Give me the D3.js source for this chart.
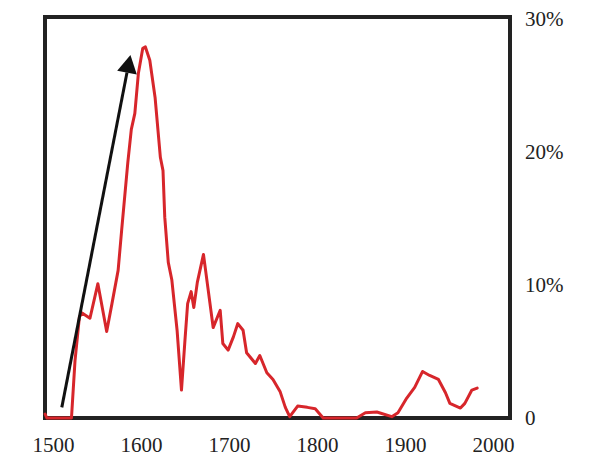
<!DOCTYPE html>
<html>
<head>
<meta charset="utf-8">
<script src="https://cdn.jsdelivr.net/npm/d3@7"></script>
<style>
  body { margin: 0; background: #fff; }
  .axis text { font-family: "Liberation Serif", "Times New Roman", serif; font-size: 21px; fill: #222; }
</style>
</head>
<body>
<script>
// series: year, share in percent
const years = [1491, 1493, 1521, 1525, 1530, 1533, 1542, 1551, 1561, 1567, 1574, 1578, 1585, 1589,
    1593, 1597, 1602, 1605, 1610, 1616, 1622, 1625, 1627, 1631, 1635, 1641, 1646, 1650, 1653, 1657,
    1660, 1664, 1671, 1676, 1682, 1690, 1693, 1699, 1705, 1710, 1716, 1720, 1730, 1735, 1743, 1750,
    1758, 1764, 1769, 1778, 1789, 1798, 1807, 1845, 1855, 1868, 1885, 1892, 1902, 1911, 1920, 1928,
    1938, 1946, 1951, 1963, 1968, 1976, 1982];
const shares = [0.3, 0, 0, 4.3, 7.6, 7.9, 7.5, 10.1, 6.5, 8.6, 11.1, 14.1, 19.2, 21.7,
    22.9, 25.9, 27.8, 27.9, 26.9, 24.1, 19.6, 18.6, 15.1, 11.7, 10.4, 6.6, 2.1, 5.9, 8.6, 9.5,
    8.3, 10.2, 12.3, 9.8, 6.8, 8.1, 5.6, 5.1, 6.1, 7.1, 6.6, 4.9, 4.1, 4.7, 3.4, 2.9,
    2.0, 0.8, 0.1, 0.9, 0.8, 0.7, 0, 0, 0.4, 0.45, 0.1, 0.4, 1.5, 2.3, 3.5, 3.2,
    2.9, 1.9, 1.1, 0.75, 1.1, 2.1, 2.25];

const xTicks = [1500, 1600, 1700, 1800, 1900, 2000];
const yTicks = [0, 10, 20, 30];

// arrow annotation: [year, percent] start and tip
const arrowFrom = [1510, 0.8];
const arrowTo = [1588, 27.3];

const width = 591;
const height = 472;
const box = { left: 45, right: 510, top: 17, bottom: 418 };

const x = d3.scaleLinear().domain([1500, 2000]).range([53, 493]);
const y = d3.scaleLinear().domain([0, 30]).range([418, 19]);

const svg = d3.select("body").append("svg")
    .attr("width", width)
    .attr("height", height);

svg.append("rect")
    .attr("x", box.left)
    .attr("y", box.top)
    .attr("width", box.right - box.left)
    .attr("height", box.bottom - box.top)
    .attr("fill", "none")
    .attr("stroke", "#222")
    .attr("stroke-width", 4);

svg.append("g")
    .attr("class", "axis")
    .attr("transform", `translate(0, ${box.bottom})`)
    .call(d3.axisBottom(x).tickValues(xTicks).tickFormat(d3.format("d")).tickSize(0).tickPadding(19))
    .call(g => g.select(".domain").remove());

svg.append("g")
    .attr("class", "axis")
    .attr("transform", `translate(${box.right}, 0)`)
    .call(d3.axisRight(y).tickValues(yTicks)
        .tickFormat(d => d === 0 ? "0" : d + "%").tickSize(0).tickPadding(15))
    .call(g => g.select(".domain").remove());

const entries = years.map((yr, i) => ({ year: yr, share: shares[i] }));

const valueLine = d3.line()
    .x(d => x(d.year))
    .y(d => y(d.share));

svg.append("path")
    .datum(entries)
    .attr("d", valueLine)
    .attr("fill", "none")
    .attr("stroke", "#d7262b")
    .attr("stroke-width", 3)
    .attr("stroke-linejoin", "round")
    .attr("stroke-linecap", "round");

// arrow
const x0 = x(arrowFrom[0]), y0 = y(arrowFrom[1]);
const x1 = x(arrowTo[0]), y1 = y(arrowTo[1]);
const ang = Math.atan2(y1 - y0, x1 - x0);
const headLen = 18, headHalf = 10;
const bx = x1 - headLen * Math.cos(ang), by = y1 - headLen * Math.sin(ang);

svg.append("line")
    .attr("x1", x0).attr("y1", y0)
    .attr("x2", bx).attr("y2", by)
    .attr("stroke", "#111")
    .attr("stroke-width", 3);

svg.append("path")
    .attr("d", d3.line()([
        [x1, y1],
        [bx + headHalf * Math.sin(ang), by - headHalf * Math.cos(ang)],
        [bx - headHalf * Math.sin(ang), by + headHalf * Math.cos(ang)]
    ]) + "Z")
    .attr("fill", "#111");
</script>
</body>
</html>
